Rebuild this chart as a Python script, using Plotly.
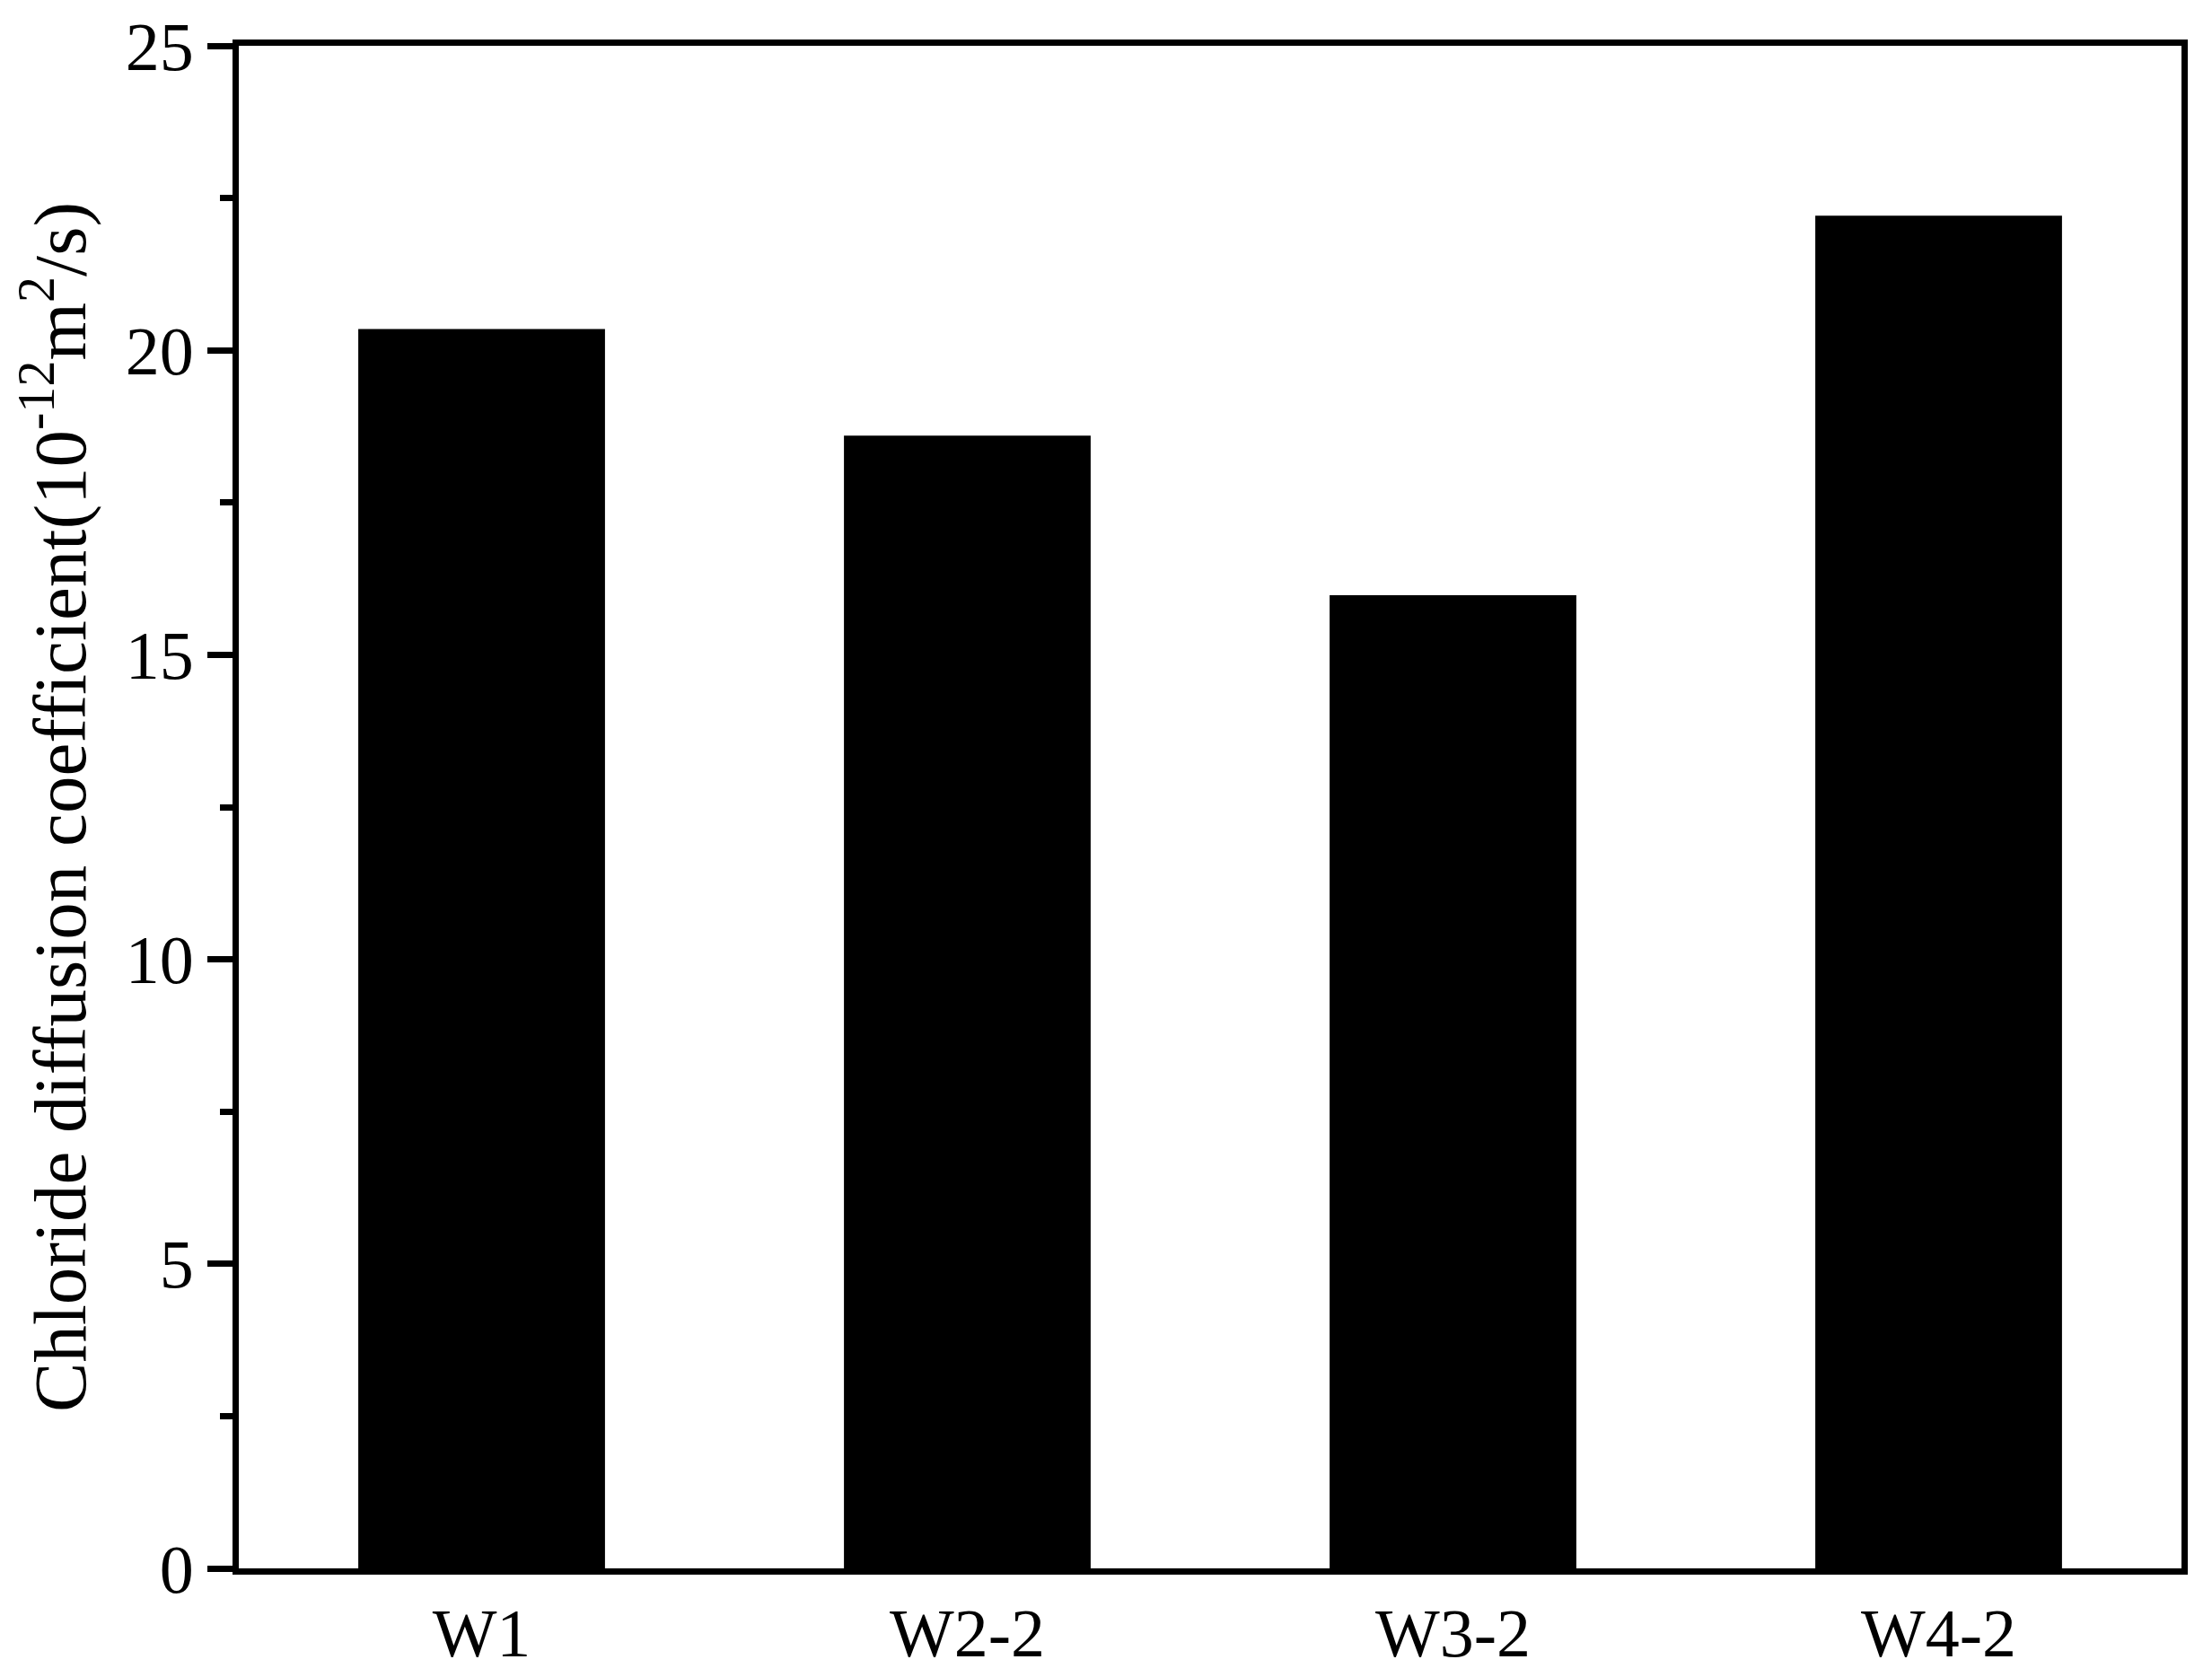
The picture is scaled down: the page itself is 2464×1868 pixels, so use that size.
import plotly.graph_objects as go

# Sample names and chloride diffusion coefficients (10^-12 m^2/s)
samples = ["W1", "W2-2", "W3-2", "W4-2"]
diffusion = [20.35, 18.60, 15.98, 22.21]

y_ticks = [0, 5, 10, 15, 20, 25]

FONT = "Liberation Serif, Times New Roman, Times, serif"

fig = go.Figure()
fig.add_trace(go.Bar(x=samples, y=diffusion, width=0.508,
                     marker=dict(color="black", line=dict(width=0))))

# the page adds an 8px body margin, margins compensate for it
fig.update_layout(
    width=2464, height=1868,
    margin=dict(l=258, r=42, t=43, b=129),
    plot_bgcolor="white", paper_bgcolor="white",
    font=dict(family=FONT, color="black", size=76),
    showlegend=False,
    bargap=0.49,
)

fig.update_xaxes(
    showline=True, linecolor="black", linewidth=7, mirror=True,
    ticks="", showgrid=False, zeroline=False, automargin=False,
    tickfont=dict(family=FONT, size=76),
)

fig.update_yaxes(
    range=[0, 25], tickvals=y_ticks,
    showline=True, linecolor="black", linewidth=7, mirror=True,
    ticks="outside", ticklen=28, tickwidth=7, tickcolor="black",
    minor=dict(dtick=2.5, ticks="outside", ticklen=14, tickwidth=7, tickcolor="black", showgrid=False),
    showgrid=False, zeroline=False, automargin=False,
    tickfont=dict(family=FONT, size=76),
    title=dict(text="Chloride diffusion coefficient(10<sup>-12</sup>m<sup>2</sup>/s)",
               font=dict(family=FONT, size=83), standoff=22),
)

fig.write_html("out.html")
